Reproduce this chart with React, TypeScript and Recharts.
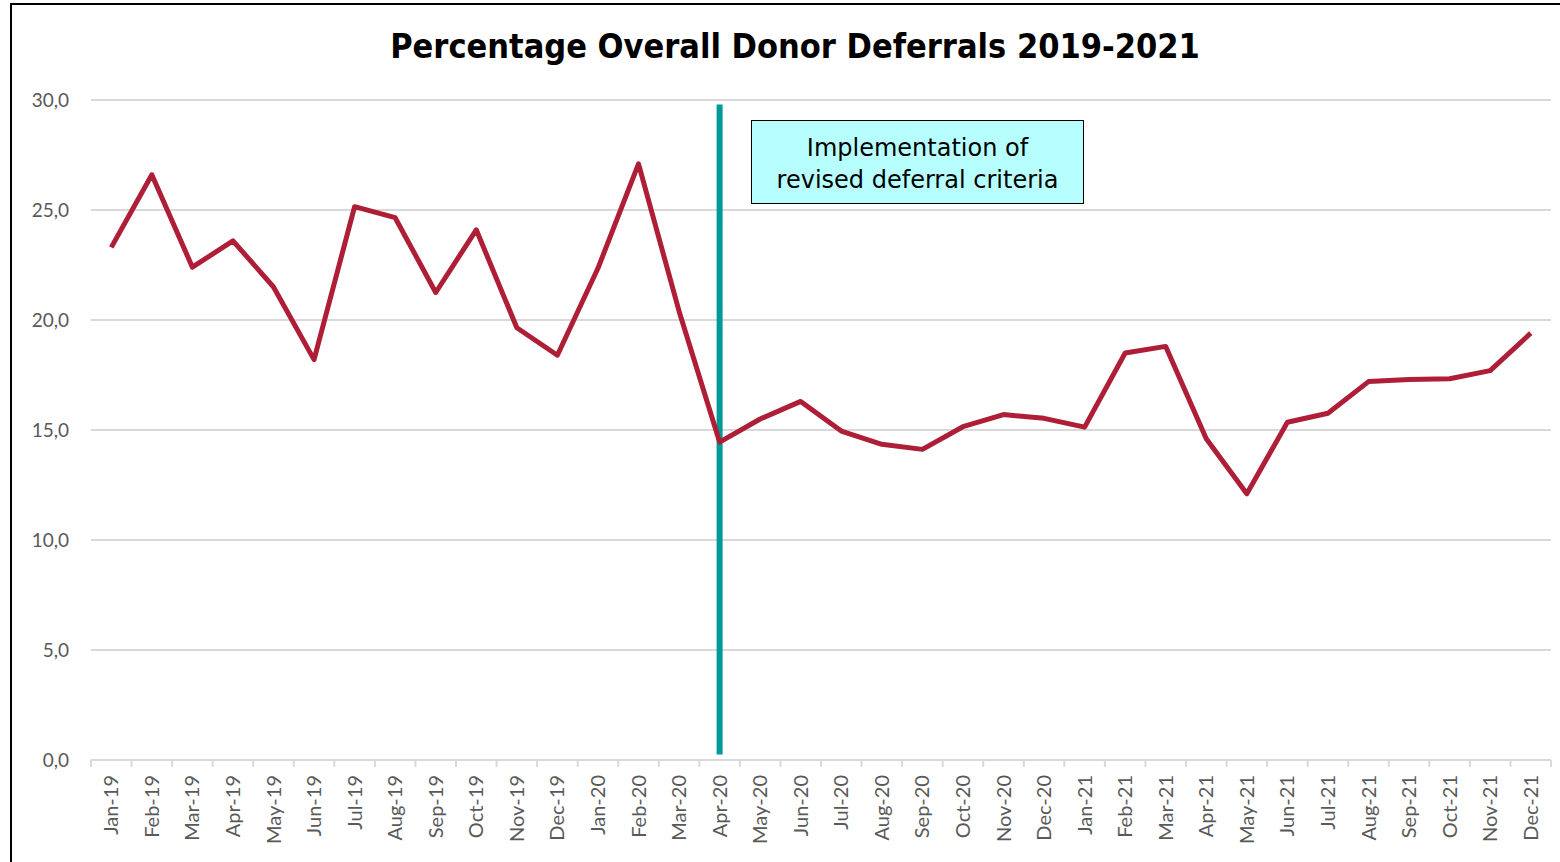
import React from 'react';
import { LineChart, Line, XAxis, YAxis, CartesianGrid, ReferenceLine } from 'recharts';

const months = [
  'Jan-19', 'Feb-19', 'Mar-19', 'Apr-19', 'May-19', 'Jun-19', 'Jul-19', 'Aug-19', 'Sep-19', 'Oct-19', 'Nov-19', 'Dec-19',
  'Jan-20', 'Feb-20', 'Mar-20', 'Apr-20', 'May-20', 'Jun-20', 'Jul-20', 'Aug-20', 'Sep-20', 'Oct-20', 'Nov-20', 'Dec-20',
  'Jan-21', 'Feb-21', 'Mar-21', 'Apr-21', 'May-21', 'Jun-21', 'Jul-21', 'Aug-21', 'Sep-21', 'Oct-21', 'Nov-21', 'Dec-21',
];

const deferralPct = [
  23.3, 26.6, 22.4, 23.6, 21.5, 18.2, 25.15, 24.65, 21.25, 24.1, 19.65, 18.4,
  22.35, 27.1, 20.4, 14.45, 15.5, 16.3, 14.95, 14.35, 14.12, 15.15, 15.7, 15.53,
  15.13, 18.5, 18.8, 14.6, 12.1, 15.35, 15.76, 17.2, 17.3, 17.33, 17.7, 19.4,
];

const yTicks = [0, 5, 10, 15, 20, 25, 30];

const changeMonth = 'Apr-20';

const data = months.map((m, i) => ({ month: m, pct: deferralPct[i] }));

const GRID = '#d9d9d9';
const LABEL = '#595959';

function MonthTick(props: any) {
  const { x, y, payload, width, visibleTicksCount, index } = props;
  const half = width / visibleTicksCount / 2;
  return (
    <g>
      <line x1={x - half} x2={x - half} y1={y - 15} y2={y - 8} stroke={GRID} strokeWidth={2} />
      {index === visibleTicksCount - 1 && (
        <line x1={x + half} x2={x + half} y1={y - 15} y2={y - 8} stroke={GRID} strokeWidth={2} />
      )}
      <text
        x={x}
        y={y}
        dy="0.35em"
        transform={`rotate(-90, ${x}, ${y})`}
        textAnchor="end"
        fill={LABEL}
        fontSize={20}
        fontFamily="Lato, 'Open Sans', sans-serif"
      >
        {payload.value}
      </text>
    </g>
  );
}

export default function App() {
  return (
    <div style={{ position: 'absolute', left: 0, top: 0, width: 1560, height: 862, overflow: 'hidden', background: '#fff' }}>
      <div
        style={{
          position: 'absolute',
          left: 10,
          top: 3,
          width: 1600,
          height: 900,
          borderLeft: '2px solid #000',
          borderTop: '2px solid #000',
        }}
      />
      <div
        style={{
          position: 'absolute',
          left: 0,
          top: 24,
          width: 1590,
          textAlign: 'center',
          fontFamily: "'DejaVu Sans Condensed', 'DejaVu Sans', sans-serif",
          fontWeight: 'bold',
          fontSize: 34,
          color: '#000',
          lineHeight: '44px',
        }}
      >
        Percentage Overall Donor Deferrals 2019-2021
      </div>
      <div style={{ position: 'absolute', left: 0, top: 0 }}>
        <LineChart width={1560} height={862} data={data} margin={{ top: 100, right: 9, left: 0, bottom: 0 }}>
          <CartesianGrid vertical={false} stroke={GRID} strokeWidth={2} />
          <XAxis
            dataKey="month"
            scale="band"
            interval={0}
            height={102}
            axisLine={{ stroke: GRID, strokeWidth: 2 }}
            tickLine={false}
            tickSize={0}
            tickMargin={15}
            tick={<MonthTick />}
          />
          <YAxis
            domain={[0, 30]}
            ticks={yTicks}
            width={91}
            axisLine={false}
            tickLine={false}
            tickSize={0}
            tickMargin={22}
            tickFormatter={(v: number) => v.toFixed(1).replace('.', ',')}
            tick={{ fill: LABEL, fontSize: 19, fontFamily: "Lato, 'Open Sans', sans-serif" }}
          />
          <ReferenceLine
            segment={[
              { x: changeMonth, y: 29.8 },
              { x: changeMonth, y: 0.25 },
            ]}
            stroke="#009999"
            strokeWidth={6}
          />
          <Line
            type="linear"
            dataKey="pct"
            stroke="#ae1e36"
            strokeWidth={5}
            dot={false}
            strokeLinejoin="round"
            isAnimationActive={false}
          />
        </LineChart>
      </div>
      <div
        style={{
          position: 'absolute',
          left: 751,
          top: 120,
          width: 331,
          height: 82,
          boxSizing: 'content-box',
          background: '#b7ffff',
          border: '1.5px solid #000',
          display: 'flex',
          alignItems: 'center',
          justifyContent: 'center',
          textAlign: 'center',
          fontFamily: "'DejaVu Sans', sans-serif",
          fontSize: 24,
          lineHeight: '32px',
          paddingTop: 0,
          color: '#000',
        }}
      >
        <div style={{ marginTop: 4 }}>
          Implementation of
          <br />
          revised deferral criteria
        </div>
      </div>
    </div>
  );
}
